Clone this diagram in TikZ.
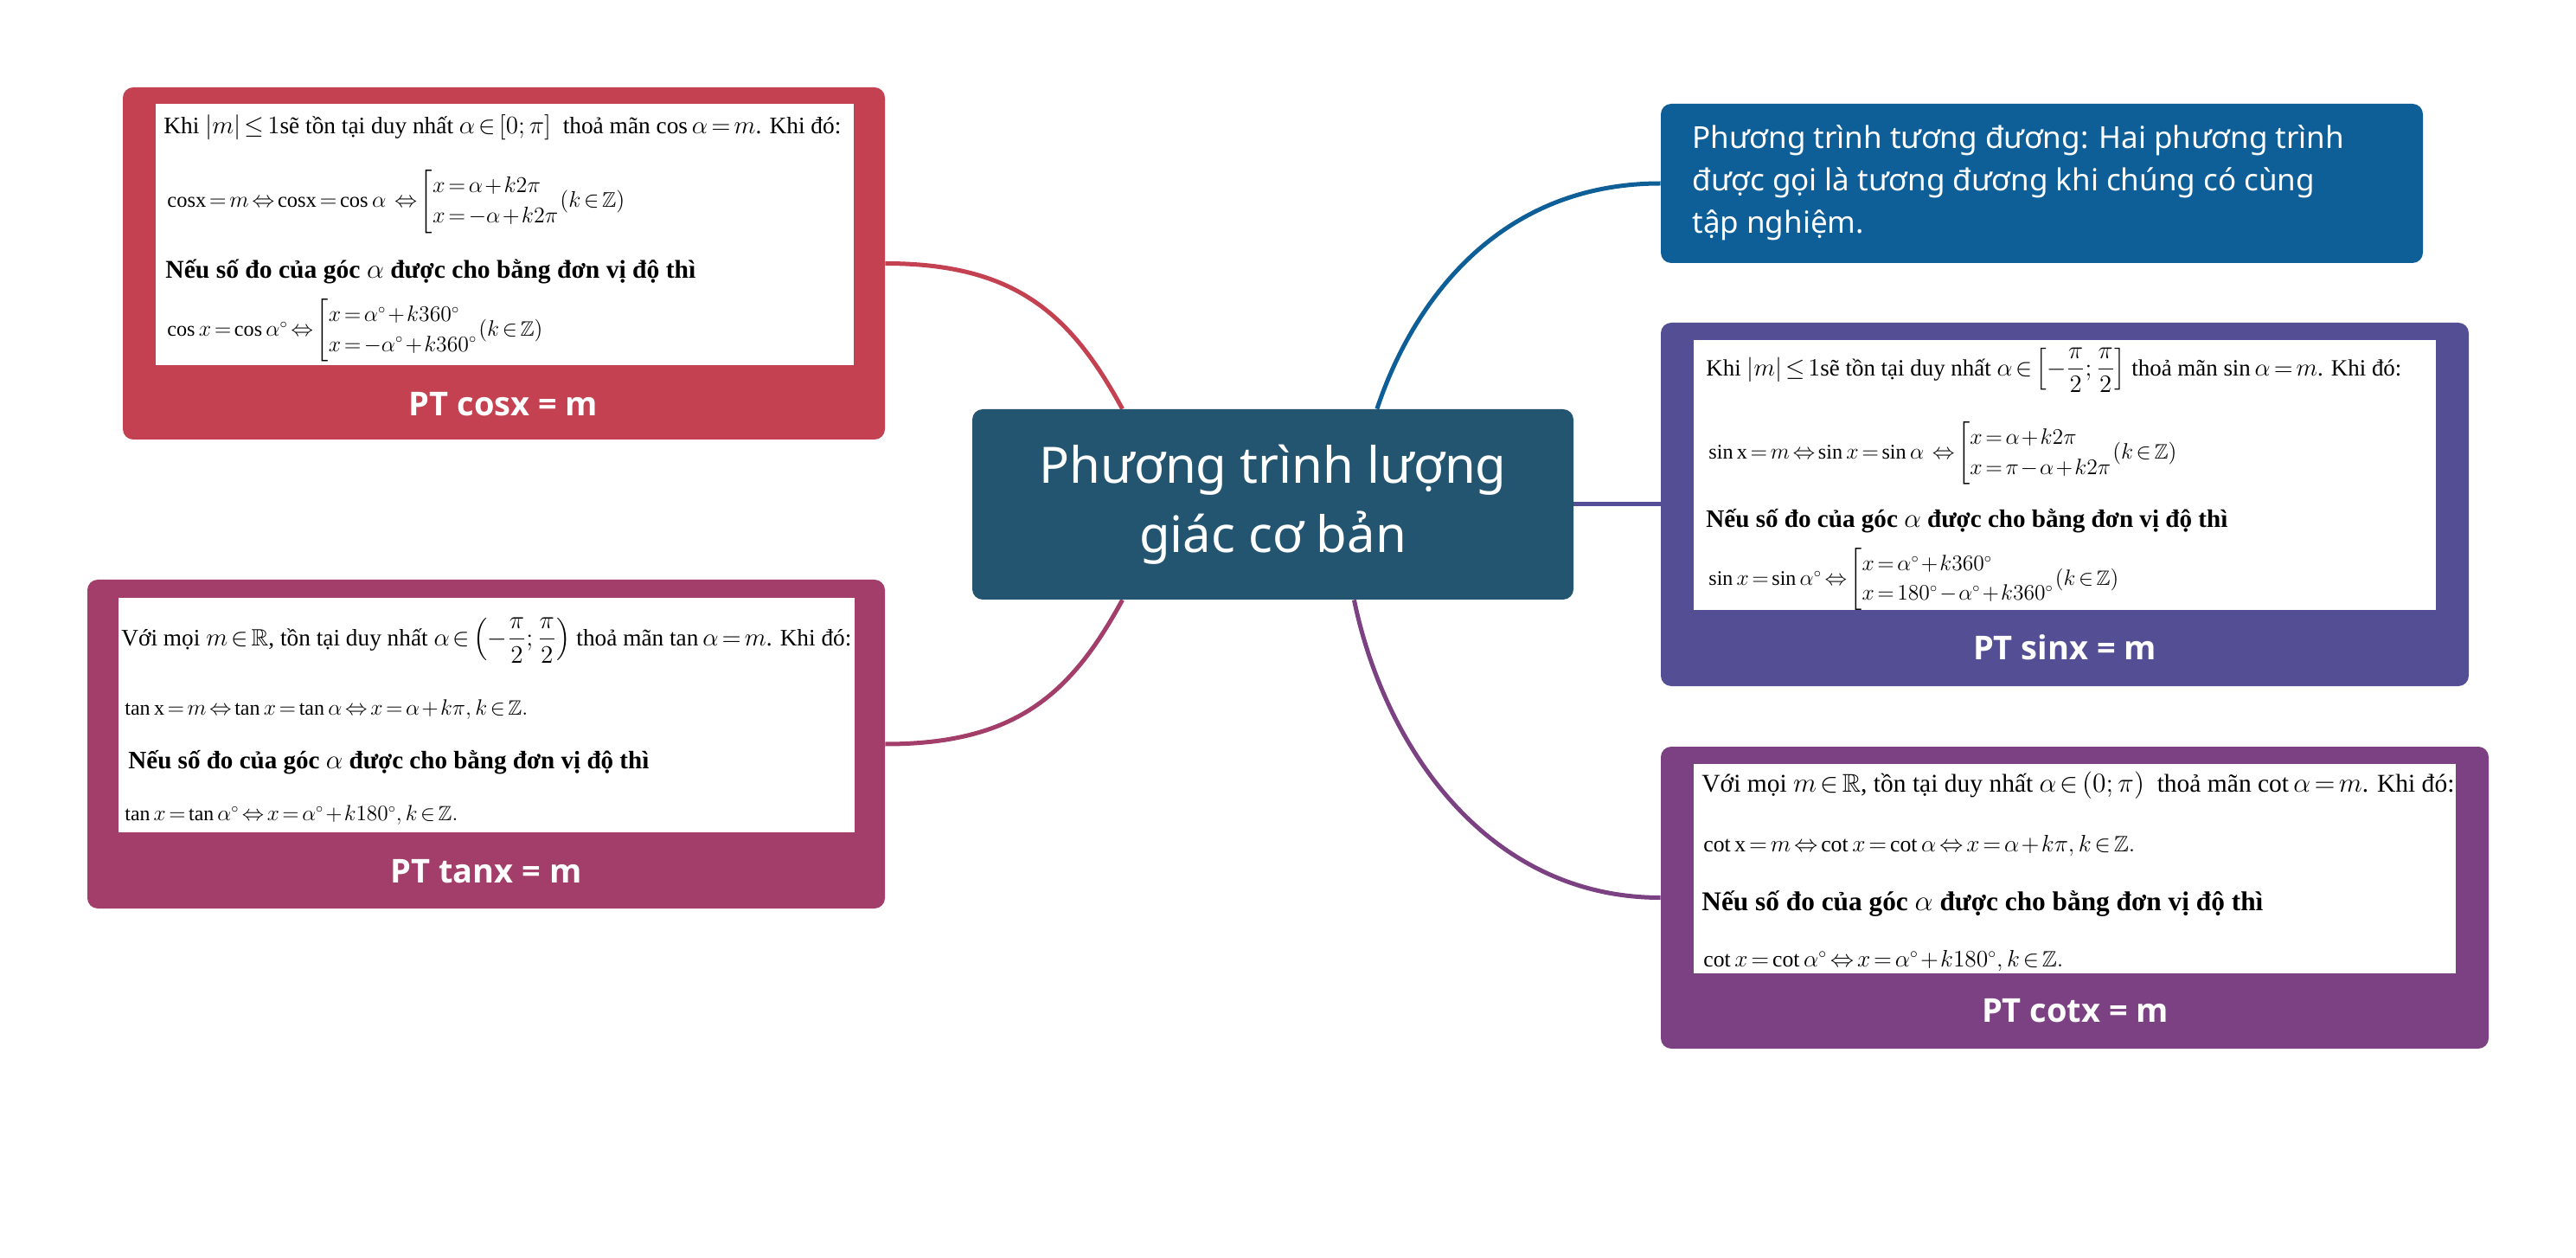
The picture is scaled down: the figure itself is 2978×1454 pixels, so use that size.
\documentclass[tikz,border=0pt]{standalone}
\usepackage{amsmath,amssymb}
\usepackage{graphicx}
\usepackage{fontspec}
\setmainfont{Liberation Serif}
\newfontfamily\sansfont{Noto Sans}
\newfontfamily\lblfont{Open Sans}
\usetikzlibrary{calc}
\pgfdeclarelayer{bg}
\pgfsetlayers{bg,main}
\definecolor{cosc}{HTML}{C44152}
\definecolor{tanc}{HTML}{A23E69}
\definecolor{bluec}{HTML}{0E5E98}
\definecolor{sinc}{HTML}{544F95}
\definecolor{cotc}{HTML}{7B4183}
\definecolor{centc}{HTML}{245570}
\newcommand{\brk}[2]{{\renewcommand{\arraystretch}{1.2}\left[\begin{array}{@{}l@{}}#1\\#2\end{array}\right.}}
\thickmuskip=2.5mu plus 1mu
\medmuskip=1.5mu plus 1mu
\begin{document}
\begin{tikzpicture}[x=0.5pt,y=-0.5pt,
  box/.style={rounded corners=6pt, inner sep=0pt},
  panel/.style={fill=white, inner sep=0pt},
  ptxt/.style={anchor=west, inner sep=0pt, font=\fontsize{13.5}{16}\selectfont},
  lbl/.style={text=white, inner sep=0pt, font=\lblfont\bfseries\fontsize{19}{23}\selectfont},
  link/.style={line width=2.5pt}]
\useasboundingbox (0,0) rectangle (2978,1454);

% central
\node[box, fill=centc, minimum width=347.5pt, minimum height=110pt, text=white, align=center,
      font=\sansfont\fontsize{29}{40}\selectfont] (central) at (1471.5,583) {Phương trình lượng\\giác cơ bản};

% cos
\node[box, fill=cosc, minimum width=440.5pt, minimum height=203.5pt] (cos) at (582.5,304.5) {};
\node[panel, minimum width=403.5pt, minimum height=151pt] (cospanel) at (583.5,271) {};
\node[ptxt] (cos1) at (189,147) {\resizebox{391.5pt}{!}{Khi $|m|\le1$sẽ tồn tại duy nhất $\alpha\in[0;\pi]$\ \ thoả mãn $\cos\alpha=m$. Khi đó:}};
\node[ptxt] (cos2) at (193,233) {\resizebox{264.5pt}{!}{$\mathrm{cosx}=m\Leftrightarrow\mathrm{cosx}=\cos\alpha\ \Leftrightarrow\brk{x=\alpha+k2\pi}{x=-\alpha+k2\pi}(k\in\mathbb{Z})$}};
\node[ptxt] (cos3) at (191,314) {\resizebox{306.5pt}{!}{\bfseries Nếu số đo của góc $\alpha$ được cho bằng đơn vị độ thì}};
\node[ptxt] (cos4) at (193,382) {\resizebox{217pt}{!}{$\cos x=\cos\alpha^\circ\Leftrightarrow\brk{x=\alpha^\circ+k360^\circ}{x=-\alpha^\circ+k360^\circ}(k\in\mathbb{Z})$}};
\node[lbl] (coslbl) at (582,467) {PT cosx = m};

% tan
\node[box, fill=tanc, minimum width=461pt, minimum height=190pt] (tan) at (562,860) {};
\node[panel, minimum width=425.5pt, minimum height=135.5pt] (tanpanel) at (562.5,826.5) {};
\node[ptxt] (tan1) at (140,740) {\resizebox{422pt}{!}{Với mọi $m\in\mathbb{R}$, tồn tại duy nhất $\alpha\in\left(-\dfrac{\pi}{2};\dfrac{\pi}{2}\right)$ thoả mãn $\tan\alpha=m$. Khi đó:}};
\node[ptxt] (tan2) at (144,820) {\resizebox{233pt}{!}{$\tan\mathrm{x}=m\Leftrightarrow\tan x=\tan\alpha\Leftrightarrow x=\alpha+k\pi,k\in\mathbb{Z}.$}};
\node[ptxt] (tan3) at (148,881) {\resizebox{301pt}{!}{\bfseries Nếu số đo của góc $\alpha$ được cho bằng đơn vị độ thì}};
\node[ptxt] (tan4) at (144,942) {\resizebox{192.5pt}{!}{$\tan x=\tan\alpha^\circ\Leftrightarrow x=\alpha^\circ+k180^\circ,k\in\mathbb{Z}.$}};
\node[lbl] (tanlbl) at (562,1007) {PT tanx = m};

% blue
\node[box, fill=bluec, minimum width=440.5pt, minimum height=92pt] (blue) at (2360.5,212) {};
\node[anchor=west, text=white, align=left, inner sep=0pt,
      font=\sansfont\fontsize{17.5}{24.5}\selectfont] (bluetxt) at (1956,211)
  {Phương trình tương đương: Hai phương trình\\được gọi là tương đương khi chúng có cùng\\tập nghiệm.};

% sin
\node[box, fill=sinc, minimum width=467pt, minimum height=210pt] (sin) at (2387,583) {};
\node[panel, minimum width=429pt, minimum height=156pt] (sinpanel) at (2387,549) {};
\node[ptxt] (sin1) at (1972,428) {\resizebox{402pt}{!}{Khi $|m|\le1$sẽ tồn tại duy nhất $\alpha\in\left[-\dfrac{\pi}{2};\dfrac{\pi}{2}\right]$ thoả mãn $\sin\alpha=m$. Khi đó:}};
\node[ptxt] (sin2) at (1975,524) {\resizebox{270.5pt}{!}{$\sin\mathrm{x}=m\Leftrightarrow\sin x=\sin\alpha\ \Leftrightarrow\brk{x=\alpha+k2\pi}{x=\pi-\alpha+k2\pi}(k\in\mathbb{Z})$}};
\node[ptxt] (sin3) at (1972,602) {\resizebox{301.5pt}{!}{\bfseries Nếu số đo của góc $\alpha$ được cho bằng đơn vị độ thì}};
\node[ptxt] (sin4) at (1975,670) {\resizebox{237pt}{!}{$\sin x=\sin\alpha^\circ\Leftrightarrow\brk{x=\alpha^\circ+k360^\circ}{x=180^\circ-\alpha^\circ+k360^\circ}(k\in\mathbb{Z})$}};
\node[lbl] (sinlbl) at (2387,748) {PT sinx = m};

% cot
\node[box, fill=cotc, minimum width=478.5pt, minimum height=174.5pt] (cot) at (2398.5,1037.5) {};
\node[panel, minimum width=440.5pt, minimum height=121pt] (cotpanel) at (2398.5,1004) {};
\node[ptxt] (cot1) at (1967,908) {\resizebox{435pt}{!}{Với mọi $m\in\mathbb{R}$, tồn tại duy nhất $\alpha\in(0;\pi)$\ \ thoả mãn $\cot\alpha=m$. Khi đó:}};
\node[ptxt] (cot2) at (1969,978) {\resizebox{249.5pt}{!}{$\cot\mathrm{x}=m\Leftrightarrow\cot x=\cot\alpha\Leftrightarrow x=\alpha+k\pi,k\in\mathbb{Z}.$}};
\node[ptxt] (cot3) at (1967,1045) {\resizebox{324.5pt}{!}{\bfseries Nếu số đo của góc $\alpha$ được cho bằng đơn vị độ thì}};
\node[ptxt] (cot4) at (1969,1111) {\resizebox{208pt}{!}{$\cot x=\cot\alpha^\circ\Leftrightarrow x=\alpha^\circ+k180^\circ,k\in\mathbb{Z}.$}};
\node[lbl] (cotlbl) at (2399,1168) {PT cotx = m};

% connectors
\begin{pgfonlayer}{bg}
\fill[white] (0,0) rectangle (2978,1454);
\draw[link, draw=cosc] (cos.east) .. controls +(150,0) and +(-60,-110) .. ($(central.north west)!0.25!(central.north east)$);
\draw[link, draw=tanc] (tan.east) .. controls +(150,0) and +(-60,110) .. ($(central.south west)!0.25!(central.south east)$);
\draw[link, draw=bluec] ($(central.north west)!0.673!(central.north east)$) .. controls +(40,-120) and +(-190,0) .. (blue.west);
\draw[link, draw=sinc] (central.east) -- (sin.west);
\draw[link, draw=cotc] ($(central.south west)!0.635!(central.south east)$) .. controls +(35,170) and +(-200,0) .. (cot.west);
\end{pgfonlayer}
\end{tikzpicture}
\end{document}
